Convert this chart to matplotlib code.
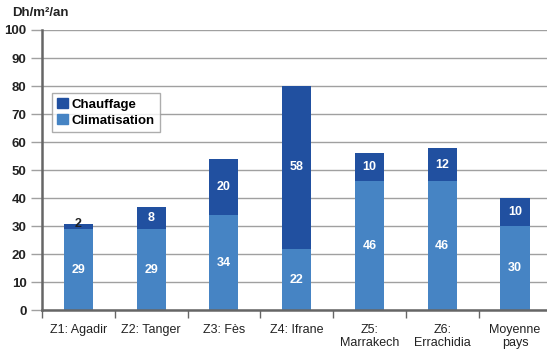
import matplotlib
matplotlib.use("Agg")
import matplotlib.pyplot as plt
import numpy as np
from matplotlib.patches import Patch

plt.rcParams["font.family"] = ["Liberation Sans", "DejaVu Sans"]

categories = ["Z1: Agadir", "Z2: Tanger", "Z3: Fès", "Z4: Ifrane",
              "Z5:\nMarrakech", "Z6:\nErrachidia", "Moyenne\npays"]
climatisation = [29, 29, 34, 22, 46, 46, 30]
chauffage = [2, 8, 20, 58, 10, 12, 10]
yticks = [0, 10, 20, 30, 40, 50, 60, 70, 80, 90, 100]

c_dark = "#2150a0"
c_light = "#4684c4"

fig = plt.figure(figsize=(5.47, 3.54), dpi=100)
ax = fig.add_axes([0.0768, 0.1229, 0.9232, 0.7924])

x = np.arange(len(categories))
w = 0.4
ax.bar(x, climatisation, w, color=c_light, zorder=3)
ax.bar(x, chauffage, w, bottom=climatisation, color=c_dark, zorder=3)

for i in range(len(categories)):
    ax.text(x[i], climatisation[i] / 2, str(climatisation[i]), ha="center", va="center",
            color="white", fontsize=9, fontweight="bold", zorder=4)
    if chauffage[i] >= 5:
        ax.text(x[i], climatisation[i] + chauffage[i] / 2, str(chauffage[i]), ha="center",
                va="center", color="white", fontsize=9, fontweight="bold", zorder=4)
    else:
        ax.text(x[i], climatisation[i] + chauffage[i], str(chauffage[i]), ha="center",
                va="center", color="#222222", fontsize=9, fontweight="bold", zorder=4)

ax.set_ylim(0, 100)
ax.set_xlim(-0.5, 6.44)
ax.set_yticks(yticks)
ax.set_yticklabels([str(t) for t in yticks], fontsize=9.5, fontweight="bold", color="#222222")
ax.yaxis.grid(True, color="#a0a0a0", lw=1.0, zorder=0)
ax.tick_params(axis="y", length=8, color="#a0a0a0", width=1.0, pad=3)

ax.set_xticks(x)
ax.set_xticklabels(categories, fontsize=9, color="#222222", linespacing=1.05)
ax.set_xticks(np.arange(-0.5, 6.0, 1.0), minor=True)
ax.tick_params(axis="x", which="major", length=0, pad=10)
ax.tick_params(axis="x", which="minor", length=6, color="#666666", width=1.0)

for s in ["top", "right"]:
    ax.spines[s].set_visible(False)
ax.spines["left"].set_color("#666666")
ax.spines["left"].set_linewidth(1.8)
ax.spines["bottom"].set_color("#666666")
ax.spines["bottom"].set_linewidth(1.8)
ax.spines["left"].set_zorder(5)
ax.spines["bottom"].set_zorder(5)

fig.text(0.022, 0.962, "Dh/m²/an", fontsize=9.5, fontweight="bold", ha="left", va="center",
         color="#222222")

handles = [Patch(color=c_dark, label="Chauffage"), Patch(color=c_light, label="Climatisation")]
leg = ax.legend(handles=handles, loc="upper left", bbox_to_anchor=(0.02, 0.775),
                prop={"weight": "bold", "size": 9.5}, frameon=True, fancybox=False,
                handlelength=0.8, handleheight=0.8, handletextpad=0.3,
                borderpad=0.4, labelspacing=0.25, borderaxespad=0)
leg.get_frame().set_edgecolor("#999999")
leg.get_frame().set_linewidth(1.0)
leg.set_zorder(6)

fig.savefig("out.png", dpi=100)
